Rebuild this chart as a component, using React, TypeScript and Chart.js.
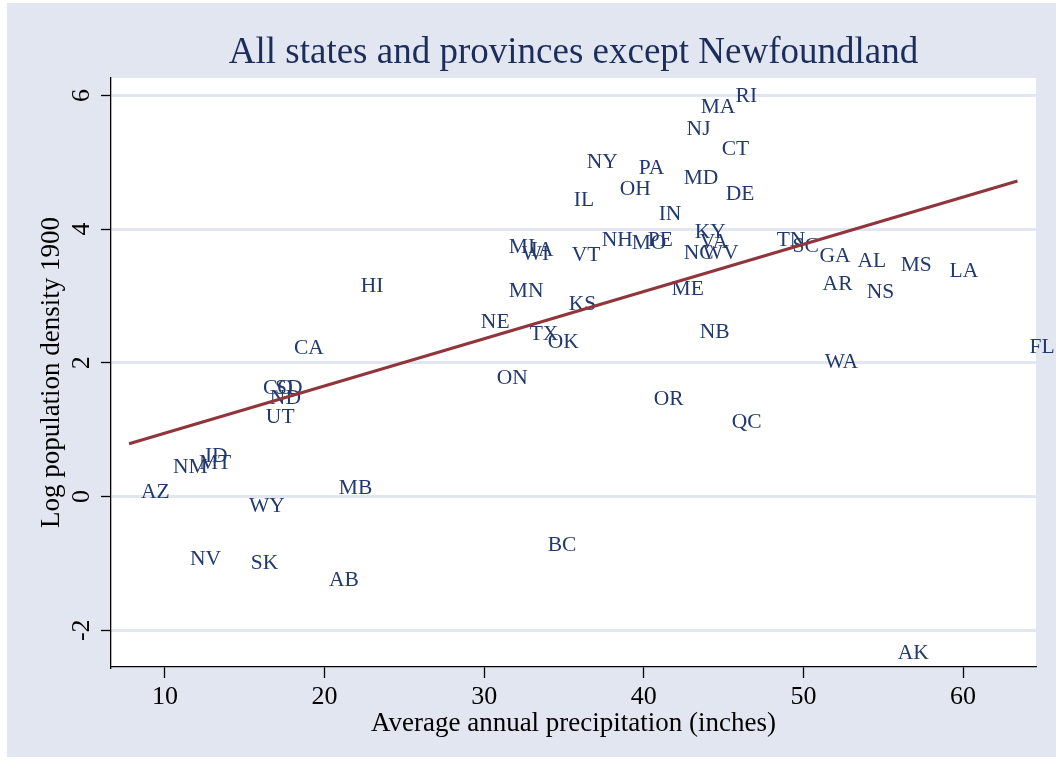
import React, { useEffect, useRef } from 'react';
import { Chart, registerables } from 'chart.js';

Chart.register(...registerables);

// State / province codes with 1900 log population density vs. average precipitation
const codes = [
  'RI', 'MA', 'NJ', 'CT', 'NY', 'PA', 'OH', 'MD', 'DE', 'IL',
  'IN', 'KY', 'VA', 'NC', 'WV', 'TN', 'SC', 'GA', 'AL', 'MS',
  'LA', 'AR', 'NS', 'ME', 'NB', 'WA', 'FL', 'QC', 'OR', 'BC',
  'AK', 'MI', 'WI', 'IA', 'VT', 'NH', 'MO', 'PE', 'MN', 'KS',
  'NE', 'TX', 'OK', 'ON', 'HI', 'CA', 'CO', 'SD', 'ND', 'UT',
  'NM', 'MT', 'ID', 'AZ', 'MB', 'WY', 'NV', 'SK', 'AB',
];

const precipitation = [
  45.0, 42.81, 41.93, 44.13, 35.67, 38.93, 37.74, 41.75, 44.38, 34.86,
  40.18, 42.44, 42.75, 41.75, 42.94, 47.57, 48.57, 50.26, 52.64, 55.34,
  58.4, 50.45, 53.21, 40.99, 42.75, 50.58, 63.41, 44.75, 39.87, 33.23,
  55.15, 30.79, 31.6, 32.17, 34.73, 36.61, 38.49, 39.49, 30.79, 34.55,
  29.04, 32.1, 33.23, 30.04, 21.52, 17.33, 15.39, 16.14, 15.82, 15.57,
  9.75, 11.38, 11.75, 7.75, 20.14, 14.51, 10.81, 14.63, 19.52,
];

const logDensity = [
  5.99, 5.82, 5.49, 5.19, 5.0, 4.91, 4.6, 4.76, 4.52, 4.43,
  4.22, 3.95, 3.8, 3.64, 3.64, 3.83, 3.74, 3.59, 3.52, 3.46,
  3.37, 3.17, 3.05, 3.1, 2.46, 2.01, 2.23, 1.11, 1.45, -0.73,
  -2.34, 3.73, 3.62, 3.68, 3.61, 3.83, 3.79, 3.83, 3.07, 2.87,
  2.6, 2.43, 2.31, 1.77, 3.14, 2.22, 1.62, 1.62, 1.47, 1.18,
  0.43, 0.49, 0.6, 0.06, 0.12, -0.15, -0.94, -1.0, -1.26,
];

// Linear fit endpoints
const fitPrecip = [7.75, 63.41];
const fitDensity = [0.79, 4.72];

const xTicks = [10, 20, 30, 40, 50, 60];
const yTicks = [-2, 0, 2, 4, 6];

const SERIF = '"Liberation Serif", "Times New Roman", serif';
const PANEL = '#E1E6F0';
const NAVY = '#22396F';
const MAROON = '#90353B';
const TITLE = '#1C2D5C';

const backgroundPlugin = {
  id: 'panelBackground',
  beforeDraw(chart: any) {
    const { ctx, width, height, chartArea } = chart;
    ctx.save();
    ctx.fillStyle = '#ffffff';
    ctx.fillRect(0, 0, width, height);
    ctx.fillStyle = PANEL;
    ctx.fillRect(7, 3, width - 7, 754);
    ctx.fillStyle = '#ffffff';
    ctx.fillRect(chartArea.left, chartArea.top, chartArea.right - chartArea.left, chartArea.bottom - chartArea.top);
    ctx.restore();
  },
};

// Writes each code to the right of its (invisible) point
const markerLabelPlugin = {
  id: 'markerLabels',
  afterDatasetDraw(chart: any, args: any) {
    if (args.index !== 0) return;
    const { ctx } = chart;
    const meta = chart.getDatasetMeta(0);
    ctx.save();
    ctx.font = `21.5px ${SERIF}`;
    ctx.fillStyle = NAVY;
    ctx.textAlign = 'left';
    ctx.textBaseline = 'middle';
    meta.data.forEach((pt: any, i: number) => {
      ctx.fillText(codes[i], pt.x + 12, pt.y);
    });
    ctx.restore();
  },
};

export default function App() {
  const canvasRef = useRef<HTMLCanvasElement>(null);

  useEffect(() => {
    const canvas = canvasRef.current;
    if (!canvas) return;
    const points = precipitation.map((x, i) => ({ x, y: logDensity[i] }));
    const fitLine = fitPrecip.map((x, i) => ({ x, y: fitDensity[i] }));

    const chart = new Chart(canvas, {
      type: 'scatter',
      data: {
        datasets: [
          {
            type: 'scatter',
            data: points,
            pointRadius: 0,
            pointHoverRadius: 0,
            order: 2,
          },
          {
            type: 'line',
            data: fitLine,
            borderColor: MAROON,
            borderWidth: 3,
            pointRadius: 0,
            fill: false,
            order: 1,
          },
        ],
      },
      options: {
        responsive: false,
        animation: false,
        events: [],
        layout: { padding: { top: 0, left: 0, right: 20, bottom: 0 } },
        plugins: {
          legend: { display: false },
          tooltip: { enabled: false },
          title: {
            display: true,
            fullSize: false,
            text: 'All states and provinces except Newfoundland',
            color: TITLE,
            font: { family: SERIF, size: 37, weight: 'normal' },
            padding: { top: 31, bottom: 2.6 },
          },
        },
        scales: {
          x: {
            type: 'linear',
            position: 'bottom',
            min: 6.62,
            max: 64.57,
            afterBuildTicks: (s: any) => {
              s.ticks = xTicks.map((v) => ({ value: v }));
            },
            afterFit: (s: any) => {
              s.height = 100;
            },
            grid: {
              drawOnChartArea: false,
              drawTicks: true,
              tickLength: 11,
              tickColor: '#000',
              tickWidth: 1.3,
            },
            border: { display: true, color: '#000', width: 1.3 },
            ticks: {
              color: '#000',
              font: { family: SERIF, size: 26 },
              padding: 4,
              minRotation: 0,
              maxRotation: 0,
              callback: (v: any) => String(v),
            },
            title: {
              display: true,
              text: 'Average annual precipitation (inches)',
              color: '#000',
              font: { family: SERIF, size: 27 },
              padding: { top: 0, bottom: 27 },
            },
          },
          y: {
            type: 'linear',
            min: -2.55,
            max: 6.26,
            afterBuildTicks: (s: any) => {
              s.ticks = yTicks.map((v) => ({ value: v }));
            },
            afterFit: (s: any) => {
              s.width = 111;
            },
            grid: {
              color: PANEL,
              lineWidth: 3,
              drawTicks: true,
              tickLength: 10,
              tickColor: '#000',
              tickWidth: 1.3,
            },
            border: { display: true, color: '#000', width: 1.3 },
            ticks: {
              color: '#000',
              font: { family: SERIF, size: 26 },
              minRotation: 90,
              maxRotation: 90,
              crossAlign: 'center',
              padding: 8,
              callback: (v: any) => String(v),
            },
            title: {
              display: true,
              text: 'Log population density 1900',
              color: '#000',
              font: { family: SERIF, size: 27 },
              padding: { top: 36, bottom: 0 },
            },
          },
        },
      },
      plugins: [backgroundPlugin, markerLabelPlugin],
    } as any);

    return () => chart.destroy();
  }, []);

  return (
    <div style={{ position: 'fixed', left: 0, top: 0, width: 1056, height: 767, background: '#fff' }}>
      <canvas ref={canvasRef} width={1056} height={767} style={{ display: 'block' }} />
    </div>
  );
}
